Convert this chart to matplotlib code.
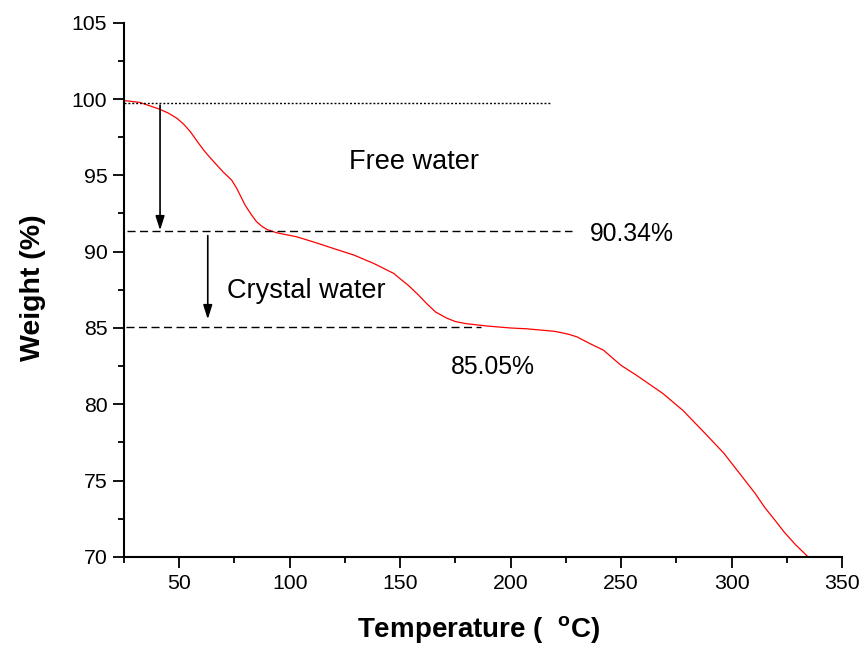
import matplotlib
matplotlib.use("Agg")
import matplotlib.pyplot as plt
from matplotlib.ticker import MultipleLocator

plt.rcParams['font.family'] = ['Liberation Sans', 'DejaVu Sans']
plt.rcParams['mathtext.fontset'] = 'custom'
plt.rcParams['mathtext.rm'] = 'Liberation Sans'
plt.rcParams['mathtext.bf'] = 'Liberation Sans:bold'

# TGA curve
temperature = [25, 32, 41, 45, 49, 52, 55, 58, 61, 64, 67, 70, 73.7, 76, 79.8, 82.5, 85,
               87.5, 89.6, 94, 103, 112, 120, 129, 138, 147, 154, 158, 162, 166, 171, 175,
               180, 190, 200, 207, 220, 226, 230, 236, 242, 246, 250, 257, 269, 278, 288,
               296.5, 303.5, 310.5, 315, 319.7, 324, 329, 334.7]
weight = [99.9, 99.78, 99.34, 99.08, 98.73, 98.35, 97.86, 97.25, 96.66, 96.15, 95.67,
          95.2, 94.69, 94.15, 93.05, 92.45, 91.96, 91.65, 91.46, 91.24, 90.98, 90.58,
          90.2, 89.78, 89.23, 88.58, 87.75, 87.2, 86.6, 86.05, 85.65, 85.42, 85.28, 85.12,
          85.0, 84.95, 84.78, 84.6, 84.42, 83.97, 83.55, 83.05, 82.55, 81.9, 80.7, 79.6,
          78.1, 76.8, 75.5, 74.2, 73.25, 72.4, 71.6, 70.8, 70.0]

# reference levels (y value, x start, x end)
level_start = [99.72, 25, 217.8]
level_free = [91.35, 26.2, 227.7]
level_crystal = [85.08, 26.0, 186.5]

# arrows (x, y from, y to)
arrow_free = [41.3, 99.6, 91.4]
arrow_crystal = [62.9, 91.05, 85.57]

labels = ["Free water", "Crystal water", "90.34%", "85.05%"]
label_pos = [(126.8, 95.39), (71.4, 86.94), (235.9, 90.71), (172.9, 81.98)]
label_size = [19.5, 19.5, 17.8, 17.8]

xticks = [50, 100, 150, 200, 250, 300, 350]
yticks = [70, 75, 80, 85, 90, 95, 100, 105]

fig = plt.figure(figsize=(8.59, 6.46), dpi=100)
ax = fig.add_axes([0.1444, 0.1378, 0.8358, 0.8271])

ax.plot(temperature, weight, color='red', lw=0.9)

ax.plot([level_start[1], level_start[2]], [level_start[0]] * 2, color='black', lw=1.0,
        linestyle=(0, (1.4, 1.4)))
ax.plot([level_free[1], level_free[2]], [level_free[0]] * 2, color='black', lw=1.0,
        linestyle=(0, (5.8, 3.2)))
ax.plot([level_crystal[1], level_crystal[2]], [level_crystal[0]] * 2, color='black', lw=1.0,
        linestyle=(0, (5.8, 3.2)))

for a in (arrow_free, arrow_crystal):
    ax.annotate('', xy=(a[0], a[2]), xytext=(a[0], a[1]),
                arrowprops=dict(arrowstyle='-|>,head_length=0.85,head_width=0.27',
                                mutation_scale=10, color='black', lw=1.2,
                                shrinkA=0, shrinkB=0))

for t, (x, y), s in zip(labels, label_pos, label_size):
    ax.text(x, y, t, fontsize=s, ha='left', va='baseline')

ax.set_xlim(25, 350)
ax.set_ylim(70, 105)
ax.set_xticks(xticks)
ax.set_yticks(yticks)
ax.xaxis.set_minor_locator(MultipleLocator(25))
ax.yaxis.set_minor_locator(MultipleLocator(2.5))
ax.tick_params(axis='both', which='major', direction='out', length=8, width=1.3,
               labelsize=15.3, pad=4)
ax.tick_params(axis='both', which='minor', direction='out', length=4.5, width=1.3)
for side in ('top', 'right'):
    ax.spines[side].set_visible(False)
for side in ('left', 'bottom'):
    ax.spines[side].set_linewidth(1.5)

ax.set_xlabel(r'Temperature (  $^{\mathbf{o}}$C)', fontsize=20, fontweight='bold')
ax.xaxis.label.set_verticalalignment('baseline')
ax.xaxis.set_label_coords(0.494, -0.1514)
ax.set_ylabel('Weight (%)', fontsize=20.5, fontweight='bold')
ax.yaxis.label.set_verticalalignment('baseline')
ax.yaxis.set_label_coords(-0.117, 0.5047)

fig.savefig('out.png', dpi=100)
